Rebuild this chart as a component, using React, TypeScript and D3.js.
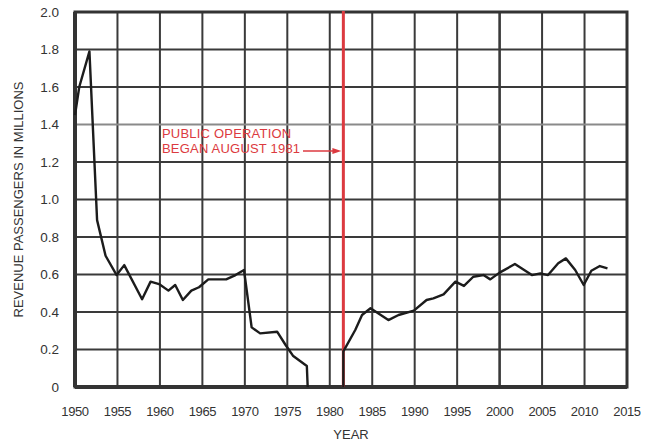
import React from "react";
import * as d3 from "d3";

const years: number[] = [
  1950.0, 1950.5, 1951.7, 1952.6, 1953.6, 1954.9, 1955.8, 1957.9, 1958.9, 1959.9,
  1961.0, 1961.8, 1962.7, 1963.7, 1964.6, 1965.7, 1967.8, 1968.9, 1969.9, 1970.8,
  1971.8, 1973.8, 1974.8, 1975.7, 1977.3, 1977.4, 1979.5, 1981.6, 1981.6, 1983.0,
  1983.8, 1984.8, 1986.9, 1988.1, 1989.9, 1991.4, 1992.2, 1993.4, 1994.8, 1995.8,
  1996.9, 1998.1, 1998.9, 2000.0, 2001.8, 2003.8, 2004.8, 2005.7, 2006.9, 2007.8,
  2008.9, 2009.9, 2010.8, 2011.8, 2012.7,
];
const passengers: (number | null)[] = [
  1.45, 1.6, 1.79, 0.89, 0.7, 0.597, 0.65, 0.468, 0.562, 0.549,
  0.514, 0.544, 0.464, 0.514, 0.532, 0.574, 0.574, 0.597, 0.624, 0.318,
  0.286, 0.295, 0.224, 0.165, 0.112, 0.0, null, 0.0, 0.19, 0.304,
  0.384, 0.42, 0.357, 0.384, 0.407, 0.464, 0.473, 0.494, 0.562, 0.539,
  0.588, 0.597, 0.574, 0.61, 0.656, 0.597, 0.606, 0.597, 0.66, 0.686,
  0.624, 0.544, 0.62, 0.645, 0.633,
];
const xTicks: number[] = [1950, 1955, 1960, 1965, 1970, 1975, 1980, 1985, 1990, 1995, 2000, 2005, 2010, 2015];
const yTicks: number[] = [0, 0.2, 0.4, 0.6, 0.8, 1.0, 1.2, 1.4, 1.6, 1.8, 2.0];
const yTickLabels: string[] = ["0", "0.2", "0.4", "0.6", "0.8", "1.0", "1.2", "1.4", "1.6", "1.8", "2.0"];
const openingYear = 1981.6;
const annotationLines: string[] = ["PUBLIC OPERATION", "BEGAN AUGUST 1981"];
const xTitle = "YEAR";
const yTitle = "REVENUE PASSENGERS IN MILLIONS";

const W = 653;
const H = 442;
const left = 75;
const right = 627;
const top = 12;
const bottom = 387;

export default function App() {
  const x = d3.scaleLinear().domain([1950, 2015]).range([left, right]);
  const y = d3.scaleLinear().domain([0, 2]).range([bottom, top]);
  const pts = years.map((yr, i) => ({ yr, v: passengers[i] }));
  const line = d3
    .line<{ yr: number; v: number | null }>()
    .defined((d) => d.v !== null)
    .x((d) => x(d.yr))
    .y((d) => y(d.v as number));
  const font = "'Liberation Sans', Arial, Helvetica, sans-serif";
  const red = "#dc3a40";
  const grid = "#3a3a3a";
  const ox = x(openingYear);
  const arrowY = 151;
  return (
    <svg
      width={W}
      height={H}
      style={{ position: "absolute", left: 0, top: 0, background: "#fff" }}
      fontFamily={font}
    >
      {xTicks.slice(1, -1).map((t) => (
        <line key={"vx" + t} x1={x(t)} x2={x(t)} y1={top} y2={bottom} stroke={grid} strokeWidth={t === 2000 ? 2.6 : 2} />
      ))}
      {yTicks.slice(1, -1).map((t) => (
        <line
          key={"hy" + t}
          x1={left}
          x2={right}
          y1={y(t)}
          y2={y(t)}
          stroke={Math.abs(t - 1.4) < 1e-6 ? "#8a8a8a" : grid}
          strokeWidth={2}
        />
      ))}
      <rect x={left} y={top} width={right - left} height={bottom - top} fill="none" stroke="#333" strokeWidth={3} />
      <line x1={left} x2={right} y1={bottom} y2={bottom} stroke="#333" strokeWidth={4} />
      <line x1={left} x2={left} y1={top} y2={bottom} stroke="#333" strokeWidth={4} />
      <line x1={ox} x2={ox} y1={top - 1} y2={bottom} stroke={red} strokeWidth={3} />
      <path d={line(pts) || ""} fill="none" stroke="#1c1c1c" strokeWidth={2.4} strokeLinejoin="round" />
      {annotationLines.map((s, i) => (
        <text key={s} x={162} y={138 + i * 15} fill={red} fontSize={13} letterSpacing={0.2}>
          {s}
        </text>
      ))}
      <line x1={303} x2={ox - 8} y1={arrowY} y2={arrowY} stroke={red} strokeWidth={1.5} />
      <path
        d={`M${ox - 2},${arrowY} L${ox - 11},${arrowY - 3} L${ox - 11},${arrowY + 3} Z`}
        fill={red}
      />
      {yTicks.map((t, i) => (
        <text key={"yl" + t} x={59} y={y(t)} dy="0.35em" textAnchor="end" fontSize={13.5} fill="#333">
          {yTickLabels[i]}
        </text>
      ))}
      {xTicks.map((t) => (
        <text key={"xl" + t} x={x(t)} y={411} dy="0.35em" textAnchor="middle" fontSize={13} fill="#333" letterSpacing={-0.4}>
          {t}
        </text>
      ))}
      <text x={(left + right) / 2} y={439} textAnchor="middle" fontSize={13} fill="#333">
        {xTitle}
      </text>
      <text
        transform={`translate(23,${(top + bottom) / 2}) rotate(-90)`}
        textAnchor="middle"
        fontSize={13}
        fill="#333"
      >
        {yTitle}
      </text>
    </svg>
  );
}
